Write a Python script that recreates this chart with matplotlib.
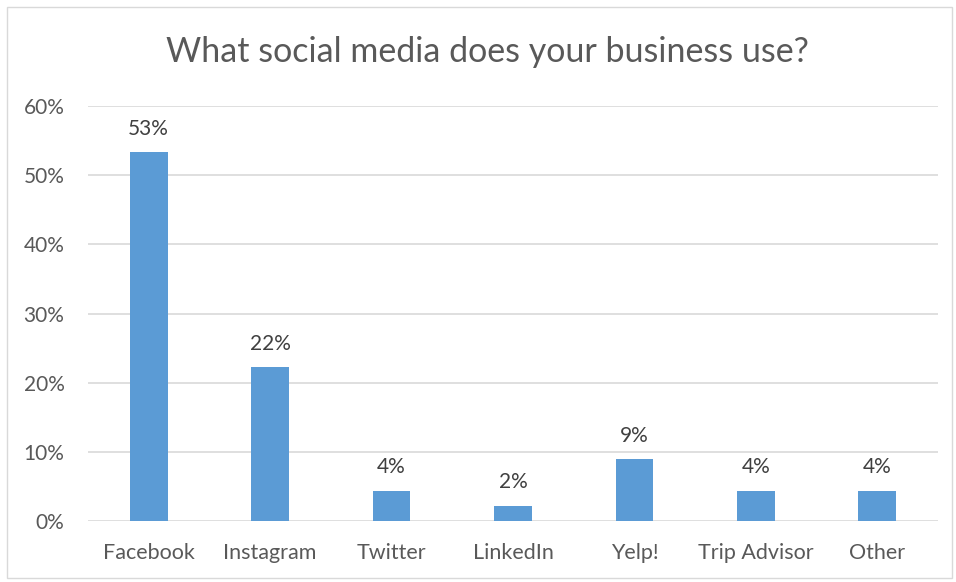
import matplotlib
matplotlib.use("Agg")
import matplotlib.pyplot as plt
from matplotlib.patches import Rectangle
from matplotlib.ticker import FuncFormatter

categories = ["Facebook", "Instagram", "Twitter", "LinkedIn", "Yelp!", "Trip Advisor", "Other"]
values = [53.3, 22.2, 4.4, 2.2, 8.9, 4.4, 4.4]
yticks = [0, 10, 20, 30, 40, 50, 60]
title = "What social media does your business use?"

plt.rcParams['font.family'] = ['Lato', 'DejaVu Sans']
text_color = "#595959"
bar_color = "#5B9BD5"
grid_color = "#D9D9D9"

fig = plt.figure(figsize=(9.56, 5.82), dpi=100)
fig.patches.append(Rectangle((7/956, 4/582), 945/956, 571/582, transform=fig.transFigure,
                             fill=False, edgecolor="#D9D9D9", linewidth=1.0))
ax = fig.add_axes([88/956, 61/582, 850/956, 415/582])

x = list(range(len(categories)))
ax.bar(x, values, width=0.31, color=bar_color, zorder=3)
for xi, v in zip(x, values):
    ax.text(xi, v + 2.0, f"{round(v):d}%", ha="center", va="bottom",
            fontsize=15, color="#404040")

ax.set_xlim(-0.5, len(categories) - 0.5)
ax.set_ylim(0, 60)
ax.set_yticks(yticks)
ax.yaxis.set_major_formatter(FuncFormatter(lambda v, p: f"{int(v)}%"))
ax.set_xticks(x)
ax.set_xticklabels(categories)
ax.tick_params(axis="both", length=0, labelcolor=text_color)
ax.tick_params(axis="y", pad=17, labelsize=15)
ax.tick_params(axis="x", pad=16, labelsize=15.5)
ax.grid(axis="y", color=grid_color, linewidth=1.2, zorder=0)
for s in ax.spines.values():
    s.set_visible(False)

fig.text(487/956, 1 - 52/582, title, ha="center", va="center", fontsize=24.5, color=text_color)

fig.savefig("out.png", dpi=100)
